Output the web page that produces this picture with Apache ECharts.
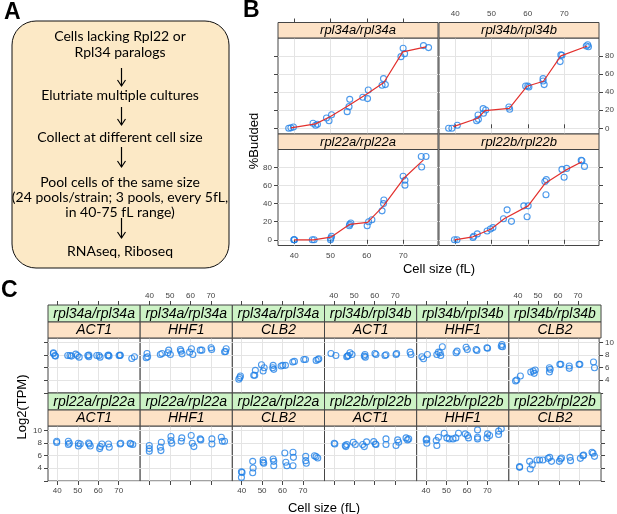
<!DOCTYPE html>
<html>
<head>
<meta charset="utf-8">
<script src="https://cdn.jsdelivr.net/npm/echarts@6/dist/echarts.min.js"></script>
<style>
  html, body { margin: 0; padding: 0; background: #fff; }
  #main { width: 617px; height: 514px; }
</style>
</head>
<body>
<div id="main"></div>
<script>
// ---- data ----
var sizeTicks = [40, 50, 60, 70];
var buddedTicks = [0, 20, 40, 60, 80];
var tpmTicks = [2, 4, 6, 8, 10];
var tpmLabels = [4, 6, 8, 10];

var stepsA = ['Cells lacking Rpl22 or', 'Rpl34 paralogs', 'Elutriate multiple cultures',
  'Collect at different cell size', 'Pool cells of the same size',
  '(24 pools/strain; 3 pools, every 5fL,', 'in 40-75 fL range)', 'RNAseq, Riboseq'];

var strainsB = ['rpl34a/rpl34a', 'rpl34b/rpl34b', 'rpl22a/rpl22a', 'rpl22b/rpl22b'];

var budded_rpl34a = [[38.5,0],[39.1,0.5],[39.8,1.4],[45.2,5.5],[45.9,3.3],[46.4,4.4],[48.9,11.4],[49.6,8.4],[50.3,15],[54.6,18.4],[55.1,23.9],[55.3,32],[58.9,34.3],[60.2,32.8],[60.4,42.4],[64.2,47.5],[65.1,48.3],[64.6,54.9],[69.4,79.2],[70.0,88.5],[70.4,82.5],[75.6,91.4],[77.0,89.2]];
var mean_rpl34a = [[39.1,0.5],[45.9,4.9],[50,13],[55.1,25.5],[59.8,37.3],[64.7,50.6],[69.9,84.5],[76.3,90]];
var budded_rpl34b = [[38.2,0],[39.1,0],[40.6,3.3],[45.9,8.4],[46.3,14.7],[46.4,9.9],[47.7,21.7],[47.8,16.6],[48.4,20.3],[54.8,23.6],[55.0,21],[59.4,46.8],[60.0,46.8],[60.3,45.6],[64.2,54.9],[64.5,48.3],[64.2,52.2],[69.1,81.1],[69.4,80.7],[68.9,73.7],[76.1,91],[76.5,92.4],[76.7,90.2]];
var mean_rpl34b = [[39.5,1.8],[46.2,11.1],[48.2,19.6],[54.9,22.1],[59.8,46.5],[64.3,52],[69.1,80],[76.4,91]];
var budded_rpl22a = [[39.9,0],[40,0],[40.1,0],[45,0],[45.5,0],[50,0],[50.1,1.8],[50.3,4],[55.2,15.6],[55.3,17.1],[55.6,18.5],[60.1,15.6],[60.5,20],[61.4,22.2],[64.2,32],[64.6,40],[64.7,44],[70.0,70.2],[70.5,65.8],[70.5,60.4],[75.0,92],[76.3,92],[75.1,80.4]];
var mean_rpl22a = [[40,0],[45.3,0],[50.1,2.9],[55.3,17.1],[60.2,19.3],[64.6,37.5],[70.2,68],[75.6,88.4]];
var budded_rpl22b = [[39.8,0],[40.5,0],[44.9,2.5],[45.1,4],[46.1,6.5],[48.8,9.8],[49.7,12],[50.4,13.5],[53.3,23.3],[54.3,33.1],[55.5,20.4],[58.9,37.5],[60.1,37.5],[59.8,25.5],[64.7,64.4],[65.1,66.5],[65.0,49.8],[69.4,77.8],[70.7,78.9],[70.0,69.1],[74.7,88],[74.9,87.3],[75.6,81.1]];
var mean_rpl22b = [[39.8,0],[44.9,3.3],[49.9,12],[53.6,23.6],[60.1,37.5],[64.7,62.2],[70.3,76.7],[74.9,86.2]];

var genes = ['ACT1', 'HHF1', 'CLB2'];
var strainsC = ['rpl34a/rpl34a', 'rpl34b/rpl34b', 'rpl22a/rpl22a', 'rpl22b/rpl22b'];

var tpm_rpl34a_ACT1 = [[38.1,8.37],[38.1,8.26],[38.8,7.95],[39.1,7.84],[45.1,7.95],[46.2,7.95],[46.9,7.84],[49.0,8.16],[49.8,7.95],[50.7,7.68],[54.9,7.95],[55.4,7.74],[55.4,8.0],[59.3,7.95],[60.4,7.95],[60.9,7.68],[64.7,7.95],[65.0,8.0],[65.3,7.84],[70.2,7.95],[70.7,7.95],[70.7,8.0],[76.4,7.47],[77.7,7.74]];
var tpm_rpl34a_HHF1 = [[38.8,8.26],[39.1,7.74],[38.4,7.58],[45.3,8.1],[46.1,8.26],[49.4,8.79],[50.2,8.1],[49.0,8.37],[55.1,8.9],[55.9,8.2],[55.4,8.63],[60.5,9.0],[61.2,8.1],[59.6,8.47],[64.8,8.79],[65.6,8.79],[70.1,9.16],[70.4,8.9],[76.7,8.53],[77.5,9.0],[77.2,8.58]];
var tpm_rpl34a_CLB2 = [[38.6,4.16],[39.4,4.68],[39.1,4.42],[45.9,4.79],[46.7,5.58],[46.4,4.79],[49.7,6.47],[50.5,5.47],[51.0,6.0],[55.4,6.37],[55.7,5.74],[55.2,6.0],[59.3,6.26],[60.1,6.37],[61.4,6.37],[65.0,6.9],[65.8,7.0],[70.4,7.31],[71.2,7.31],[76.4,7.16],[77.7,7.42],[77.3,7.31]];
var tpm_rpl34b_ACT1 = [[38.6,8.26],[41.0,7.95],[46.3,7.74],[46.7,7.84],[47.1,7.95],[47.9,8.37],[48.9,8.1],[54.9,7.84],[55.2,8.1],[55.4,7.68],[60.1,8.26],[60.6,8.1],[65.0,7.95],[65.5,8.05],[70.4,8.1],[70.7,8.26],[77.3,8.47],[77.7,8.1]];
var tpm_rpl34b_HHF1 = [[38.0,7.74],[38.8,7.42],[40.7,8.1],[45.3,8.1],[46.1,8.47],[46.9,8.37],[47.2,7.95],[48.0,9.32],[54.7,8.37],[55.2,8.63],[59.6,9.26],[60.2,8.9],[64.5,8.9],[64.9,8.74],[69.8,9.16],[70.1,9.1],[76.8,9.42],[77.1,9.68],[77.4,9.32]];
var tpm_rpl34b_CLB2 = [[38.8,3.9],[39.4,4.05],[41.2,4.68],[46.4,5.31],[47.6,5.47],[48.1,5.1],[48.6,5.63],[55.7,6.0],[55.7,5.31],[56.1,5.74],[60.9,6.53],[61.4,6.53],[65.6,6.26],[65.6,5.9],[70.5,6.53],[70.9,6.53],[77.7,6.9],[78.2,6.0]];
var tpm_rpl22a_ACT1 = [[39.7,8.3],[39.7,8.09],[45.4,8.3],[45.4,7.77],[45.9,7.98],[50.3,7.98],[50.3,7.55],[51.2,7.87],[55.3,8.03],[55.6,7.87],[56.1,7.55],[60.7,7.13],[61.0,7.45],[61.8,7.87],[65.0,7.87],[65.4,7.34],[70.7,7.87],[71.0,7.98],[75.6,7.98],[75.9,7.87],[76.9,7.77]];
var tpm_rpl22a_HHF1 = [[39.9,7.61],[39.9,7.13],[39.9,6.7],[45.3,7.34],[45.6,6.81],[45.8,8.14],[50.5,9.04],[50.5,8.4],[50.9,7.98],[55.5,8.3],[55.8,8.83],[60.4,9.2],[60.9,7.98],[61.7,7.45],[64.8,8.67],[65.1,8.51],[70.5,8.67],[70.5,7.87],[75.1,8.94],[75.6,8.3],[76.7,8.3]];
var tpm_rpl22a_CLB2 = [[39.9,3.46],[39.9,2.55],[40.2,3.35],[45.4,5.1],[45.6,4.04],[45.4,3.3],[50.5,5.32],[50.5,4.95],[50.8,4.79],[55.4,5.48],[55.7,5.1],[55.7,4.41],[61.1,6.44],[61.6,4.95],[62.1,4.41],[65.1,6.54],[65.3,5.74],[65.1,4.41],[71.3,5.9],[71.3,5.21],[71.6,4.79],[75.6,6.0],[76.4,5.85],[77.2,5.64]];
var tpm_rpl22b_ACT1 = [[40.2,7.98],[40.5,7.87],[45.6,7.61],[45.9,7.45],[46.3,7.77],[49.5,8.14],[50.5,7.77],[54.1,7.77],[54.9,7.45],[56.0,8.19],[59.5,8.24],[60.3,7.87],[60.6,7.77],[65.5,8.67],[65.5,7.77],[70.4,7.61],[71.2,8.51],[71.7,8.14],[75.3,8.83],[76.0,8.51],[76.6,8.67]];
var tpm_rpl22b_HHF1 = [[40.1,8.51],[40.4,7.98],[40.4,8.67],[45.0,8.4],[45.3,7.61],[46.1,8.94],[48.9,9.57],[50.2,8.83],[51.4,8.67],[53.2,8.67],[54.6,8.83],[55.9,9.57],[59.2,9.47],[60.3,9.2],[60.8,8.83],[65.2,10.1],[65.2,8.94],[65.2,8.67],[69.8,8.83],[70.1,9.47],[71.1,9.2],[75.5,9.9],[75.5,9.36],[76.8,10.27]];
var tpm_rpl22b_CLB2 = [[40.7,4.26],[40.7,4.15],[45.6,5.1],[45.9,3.88],[46.9,4.57],[49.2,5.32],[50.5,5.32],[52.1,5.32],[54.6,5.58],[55.4,5.74],[56.3,5.1],[60.1,5.1],[60.7,5.48],[61.2,5.64],[65.3,5.74],[65.6,5.21],[70.4,5.58],[71.7,6.01],[72.0,6.12],[76.1,6.54],[76.6,6.38],[77.3,5.9]];

// ---- styling ----
var FRAME = '#454545';
var GRIDC = '#e4e4e4';
var PEACH = '#fde2c6';
var GREEN = '#cdf3c6';
var BLUE = '#1f7fe6';
var RED = '#e3302d';
var FONT = 'Liberation Sans';

var option = {
  animation: false,
  backgroundColor: '#fff',
  grid: [], xAxis: [], yAxis: [], series: [], graphic: []
};

var tickLbl = { fontFamily: FONT, fontSize: 8, color: '#444' };

function addPanel(p) {
  var gi = option.grid.length;
  option.grid.push({ left: p.x, top: p.y, width: p.w, height: p.h, show: true,
    borderColor: FRAME, borderWidth: 1, backgroundColor: '#fff' });
  var xi = option.xAxis.length, yi = option.yAxis.length;
  option.xAxis.push({ type: 'value', gridIndex: gi, position: 'bottom', min: p.xr[0], max: p.xr[1],
    axisLine: { show: false },
    axisTick: { show: p.bt, customValues: p.xt, length: 4, lineStyle: { color: FRAME } },
    axisLabel: Object.assign({ show: p.bl, customValues: p.xt, margin: 6 }, tickLbl),
    splitLine: { show: true, lineStyle: { color: GRIDC, width: 1 } } });
  if (p.tt) {
    option.xAxis.push({ type: 'value', gridIndex: gi, position: 'top', offset: p.stripH, min: p.xr[0], max: p.xr[1],
      axisLine: { show: false },
      axisTick: { show: true, customValues: p.xt, length: 4, lineStyle: { color: FRAME } },
      axisLabel: Object.assign({ show: p.tl, customValues: p.xt, margin: 5 }, tickLbl),
      splitLine: { show: false } });
  }
  option.yAxis.push({ type: 'value', gridIndex: gi, position: 'left', min: p.yr[0], max: p.yr[1],
    axisLine: { show: false },
    axisTick: { show: p.lt, customValues: p.yt, length: 4, lineStyle: { color: FRAME } },
    axisLabel: Object.assign({ show: p.ll, customValues: p.yl, margin: 6 }, tickLbl),
    splitLine: { show: true, lineStyle: { color: GRIDC, width: 1 } } });
  if (p.rt) {
    option.yAxis.push({ type: 'value', gridIndex: gi, position: 'right', min: p.yr[0], max: p.yr[1],
      axisLine: { show: false },
      axisTick: { show: true, customValues: p.yt, length: 4, lineStyle: { color: FRAME } },
      axisLabel: Object.assign({ show: p.rl, customValues: p.yl, margin: 6 }, tickLbl),
      splitLine: { show: false } });
  }
  option.series.push({ type: 'scatter', xAxisIndex: xi, yAxisIndex: yi, data: p.points,
    symbol: 'circle', symbolSize: 6, z: 3,
    itemStyle: { color: 'rgba(0,0,0,0)', borderColor: BLUE, borderWidth: 1.1 } });
  if (p.line) {
    option.series.push({ type: 'line', xAxisIndex: xi, yAxisIndex: yi, data: p.line,
      symbol: 'none', z: 4, lineStyle: { color: RED, width: 1.2 } });
  }
}

function strip(x, y, w, h, fill, label, fs) {
  option.graphic.push({ type: 'rect', z: 10, shape: { x: x, y: y, width: w, height: h },
    style: { fill: fill, stroke: FRAME, lineWidth: 1 } });
  option.graphic.push({ type: 'text', z: 11, x: x + w / 2, y: y + h / 2 + 0.5,
    style: { text: label, fontFamily: FONT, fontStyle: 'italic', fontSize: fs, fill: '#000',
      align: 'center', verticalAlign: 'middle' } });
}

function text(x, y, s, opts) {
  option.graphic.push({ type: 'text', z: 11, x: x, y: y, rotation: opts.rot || 0,
    style: { text: s, fontFamily: opts.font || FONT, fontSize: opts.size, fontWeight: opts.weight || 'normal',
      fill: '#000', align: opts.align || 'center', verticalAlign: 'middle' } });
}

// ---- panel A: flow box ----
option.graphic.push({ type: 'rect', z: 5, shape: { x: 12, y: 21, width: 217, height: 247, r: 24 },
  style: { fill: '#fce9c6', stroke: '#111', lineWidth: 1 } });
var stepY = [36, 52, 95, 137, 182, 197, 212, 251];
stepsA.forEach(function (s, i) { text(120, stepY[i], s, { size: 14, font: 'Lato' }); });
[[68, 86], [107, 125], [147, 167], [218, 238]].forEach(function (a) {
  option.graphic.push({ type: 'line', z: 12, shape: { x1: 121.5, y1: a[0], x2: 121.5, y2: a[1] },
    style: { stroke: '#000', lineWidth: 1.2 } });
  option.graphic.push({ type: 'polyline', z: 12, shape: { points: [[117.5, a[1] - 6], [121.5, a[1]], [125.5, a[1] - 6]] },
    style: { stroke: '#000', lineWidth: 1.2, fill: null } });
});
text(4, 13, 'A', { size: 23, weight: 'bold', align: 'left' });
text(243, 11, 'B', { size: 23, weight: 'bold', align: 'left' });
text(1, 291, 'C', { size: 23, weight: 'bold', align: 'left' });

// ---- panel B: 2x2 lattice ----
var bCols = [278, 439], bW = 160, bStrip = 15.5;
var bRows = [{ s: 22.5, p: 38 }, { s: 134, p: 149.5 }], bH = 96;
var bPts = [budded_rpl34a, budded_rpl34b, budded_rpl22a, budded_rpl22b];
var bLines = [mean_rpl34a, mean_rpl34b, mean_rpl22a, mean_rpl22b];
for (var r = 0; r < 2; r++) {
  for (var c = 0; c < 2; c++) {
    var k = r * 2 + c;
    strip(bCols[c], bRows[r].s, bW, bStrip, PEACH, strainsB[k], 13);
    addPanel({ x: bCols[c], y: bRows[r].p, w: bW, h: bH, xr: [35.55, 79.6], yr: [-6.3, 99.8],
      xt: sizeTicks, yt: buddedTicks, yl: buddedTicks, stripH: bStrip,
      bt: r === 1, bl: r === 1 && c === 0, tt: r === 0, tl: r === 0 && c === 1,
      lt: c === 0, ll: c === 0 && r === 1, rt: c === 1, rl: c === 1 && r === 0,
      points: bPts[k], line: bLines[k] });
  }
}
text(254, 141, '%Budded', { size: 13, rot: Math.PI / 2 });
text(439, 269, 'Cell size (fL)', { size: 13 });

// ---- panel C: 2x6 lattice ----
var cLeft = 48, cW = 92.17;
var cRows = [{ g: 305, o: 322, p: 338 }, { g: 393, o: 410, p: 426 }], cH = 55;
var cPts = [
  [tpm_rpl34a_ACT1, tpm_rpl34a_HHF1, tpm_rpl34a_CLB2, tpm_rpl34b_ACT1, tpm_rpl34b_HHF1, tpm_rpl34b_CLB2],
  [tpm_rpl22a_ACT1, tpm_rpl22a_HHF1, tpm_rpl22a_CLB2, tpm_rpl22b_ACT1, tpm_rpl22b_HHF1, tpm_rpl22b_CLB2]
];
for (var rr = 0; rr < 2; rr++) {
  for (var cc = 0; cc < 6; cc++) {
    var x0 = cLeft + cc * cW;
    var strain = strainsC[rr * 2 + Math.floor(cc / 3)];
    strip(x0, cRows[rr].g, cW, 17, GREEN, strain, 14);
    strip(x0, cRows[rr].o, cW, 16, PEACH, genes[cc % 3], 14);
    addPanel({ x: x0, y: cRows[rr].p, w: cW, h: cH, xr: [35.45, 80.5], yr: [1.98, 10.72],
      xt: sizeTicks, yt: tpmTicks, yl: tpmLabels, stripH: 33,
      bt: rr === 1, bl: rr === 1 && cc % 2 === 0, tt: rr === 0, tl: rr === 0 && cc % 2 === 1,
      lt: cc === 0, ll: cc === 0 && rr === 1, rt: cc === 5, rl: cc === 5 && rr === 0,
      points: cPts[rr][cc] });
  }
}
text(22, 407, 'Log2(TPM)', { size: 13, rot: Math.PI / 2 });
text(324, 508, 'Cell size (fL)', { size: 13 });

var chart = echarts.init(document.getElementById('main'), null, { renderer: 'canvas' });
chart.setOption(option);
</script>
</body>
</html>
